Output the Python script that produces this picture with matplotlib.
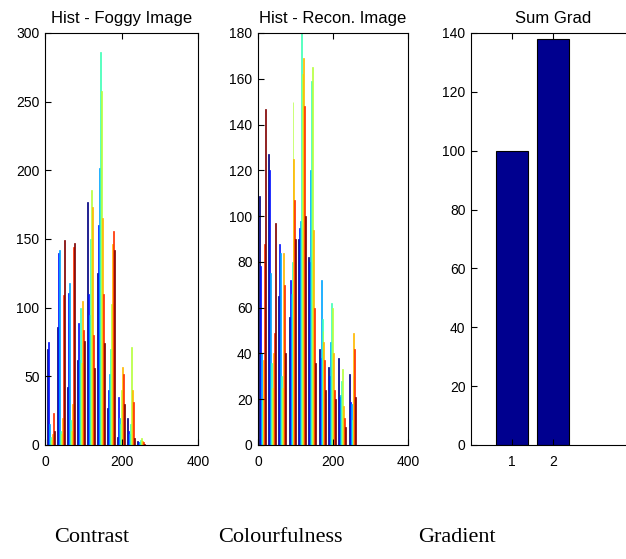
import numpy as np
import matplotlib.pyplot as plt

# bin centres of the two histograms (10 bins each)
foggy_bins = [16, 42, 68, 94, 120, 146, 172, 198, 225, 251]
recon_bins = [12, 38, 65, 92, 118, 145, 172, 198, 225, 252]

# counts per bin, one value per column series (jet coloured)
foggy_counts = [
    [70, 75, 15, 6, 4, 8, 23, 10],
    [86, 140, 142, 10, 8, 20, 109, 149],
    [42, 111, 118, 18, 10, 30, 144, 147],
    [62, 89, 62, 100, 60, 105, 84, 76],
    [177, 110, 95, 150, 186, 173, 80, 56],
    [125, 160, 202, 286, 258, 165, 110, 74],
    [27, 40, 52, 70, 103, 146, 156, 142],
    [6, 35, 20, 15, 40, 57, 52, 30],
    [20, 10, 8, 15, 71, 40, 31, 5],
    [3, 2, 2, 4, 5, 3, 2, 1],
]
recon_counts = [
    [109, 78, 40, 20, 15, 37, 88, 147],
    [127, 120, 75, 36, 25, 40, 49, 97],
    [65, 88, 84, 30, 25, 84, 70, 40],
    [56, 72, 66, 80, 150, 125, 107, 90],
    [90, 95, 98, 181, 162, 169, 148, 100],
    [82, 80, 120, 159, 165, 94, 60, 36],
    [42, 38, 72, 55, 50, 45, 37, 24],
    [34, 30, 45, 62, 60, 40, 24, 20],
    [38, 21, 22, 28, 33, 17, 12, 8],
    [31, 19, 18, 11, 30, 49, 42, 21],
]

grad_labels = [1, 2]
grad_sums = [100, 138]

captions = ["Contrast", "Colourfulness", "Gradient"]


def style_axes(ax):
    ax.tick_params(direction='in', top=True, right=False, length=4,
                   labelsize=10)
    ax.tick_params(axis='x', pad=7)
    ax.tick_params(axis='y', pad=4)
    for s in ax.spines.values():
        s.set_linewidth(0.8)


def grouped_hist(ax, bins, counts):
    counts = np.array(counts)
    nser = counts.shape[1]
    step = bins[1] - bins[0]
    w = 0.8 * step / nser
    colors = plt.cm.jet(np.linspace(0, 1, nser))
    for j in range(nser):
        ax.bar(np.array(bins) + (j - (nser - 1) / 2) * w, counts[:, j],
               width=w, color=colors[j], edgecolor=colors[j], linewidth=0.5)


plt.rcParams['font.family'] = ['Liberation Sans', 'DejaVu Sans']
fig = plt.figure(figsize=(6.26, 5.59), dpi=100)

ax1 = fig.add_axes([45 / 626, 1 - 445 / 559, 153 / 626, 412 / 559])
grouped_hist(ax1, foggy_bins, foggy_counts)
ax1.set_xlim(0, 400)
ax1.set_ylim(0, 300)
ax1.set_xticks([0, 200, 400])
ax1.set_yticks(range(0, 301, 50))
ax1.set_title("Hist - Foggy Image", fontsize=12, pad=7)
style_axes(ax1)

ax2 = fig.add_axes([258 / 626, 1 - 445 / 559, 150 / 626, 412 / 559])
grouped_hist(ax2, recon_bins, recon_counts)
ax2.set_xlim(0, 400)
ax2.set_ylim(0, 180)
ax2.set_xticks([0, 200, 400])
ax2.set_yticks(range(0, 181, 20))
ax2.set_title("Hist - Recon. Image", fontsize=12, pad=7)
style_axes(ax2)

ax3 = fig.add_axes([471 / 626, 1 - 445 / 559, 164 / 626, 412 / 559])
ax3.bar(grad_labels, grad_sums, width=0.8, color='#00008f',
        edgecolor='black', linewidth=0.8)
ax3.set_xlim(0, 4)
ax3.set_ylim(0, 140)
ax3.set_xticks(grad_labels)
ax3.set_yticks(range(0, 141, 20))
ax3.set_title("Sum Grad", fontsize=12, pad=7)
style_axes(ax3)

for x, txt in zip([92, 280, 457], captions):
    fig.text(x / 626, 1 - 537 / 559, txt, ha='center', va='center',
             fontsize=16, family='Liberation Serif')

fig.savefig("out.png", dpi=100)
